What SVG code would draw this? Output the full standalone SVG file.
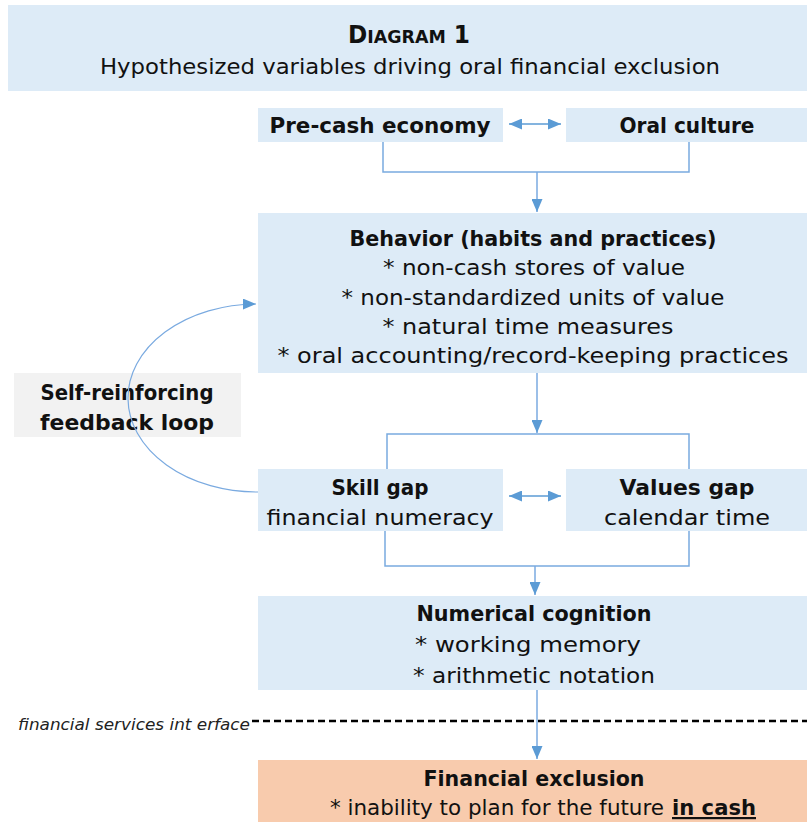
<svg xmlns="http://www.w3.org/2000/svg" width="807" height="822" viewBox="0 0 807 822">
<style>
.box{fill:#DDEBF7}
.t{font-family:"DejaVu Sans","Liberation Sans",sans-serif;font-size:22px;fill:#111;text-anchor:middle}
.b{font-weight:bold}
.c{fill:none;stroke:#7AAAE0;stroke-width:1.5}
</style>
<defs>
<marker id="ah" viewBox="0 0 13 11" refX="13" refY="5.5" markerWidth="13" markerHeight="11" markerUnits="userSpaceOnUse" orient="auto-start-reverse"><path d="M0,0 L13,5.5 L0,11 Z" fill="#5B9BD5"/></marker>
</defs>
<rect width="807" height="822" fill="#fff"/>
<g id="title">
<rect class="box" x="8" y="5" width="799" height="86"/>
<text class="t" x="409" y="43" style="font-weight:600" textLength="122" lengthAdjust="spacingAndGlyphs"><tspan font-size="24">D</tspan><tspan font-size="18">IAGRAM</tspan><tspan font-size="24"> 1</tspan></text>
<text class="t" x="410" y="74" textLength="620" lengthAdjust="spacingAndGlyphs">Hypothesized variables driving oral financial exclusion</text>
</g>
<g id="precash">
<rect class="box" x="258" y="108" width="245" height="34"/>
<text class="t b" x="380" y="133" textLength="221" lengthAdjust="spacingAndGlyphs">Pre-cash economy</text>
</g>
<g id="oral">
<rect class="box" x="566" y="108" width="241" height="34"/>
<text class="t b" x="687" y="133" textLength="135" lengthAdjust="spacingAndGlyphs">Oral culture</text>
</g>
<g id="behavior">
<rect class="box" x="258" y="213" width="549" height="160"/>
<text class="t b" x="533" y="246" textLength="367" lengthAdjust="spacingAndGlyphs">Behavior (habits and practices)</text>
<text class="t" x="534" y="275" textLength="302" lengthAdjust="spacingAndGlyphs">* non-cash stores of value</text>
<text class="t" x="533" y="305" textLength="383" lengthAdjust="spacingAndGlyphs">* non-standardized units of value</text>
<text class="t" x="528" y="334" textLength="291" lengthAdjust="spacingAndGlyphs">* natural time measures</text>
<text class="t" x="533" y="363" textLength="511" lengthAdjust="spacingAndGlyphs">* oral accounting/record-keeping practices</text>
</g>
<g id="loop">
<rect x="14" y="373" width="227" height="64" fill="#F2F2F2"/>
<text class="t b" x="127" y="400" textLength="173" lengthAdjust="spacingAndGlyphs">Self-reinforcing</text>
<text class="t b" x="127" y="430" textLength="174" lengthAdjust="spacingAndGlyphs">feedback loop</text>
</g>
<g id="skill">
<rect class="box" x="258" y="469" width="245" height="62"/>
<text class="t b" x="380" y="495" textLength="97" lengthAdjust="spacingAndGlyphs">Skill gap</text>
<text class="t" x="380" y="525" textLength="227" lengthAdjust="spacingAndGlyphs">financial numeracy</text>
</g>
<g id="values">
<rect class="box" x="566" y="469" width="241" height="62"/>
<text class="t b" x="687" y="495" textLength="135" lengthAdjust="spacingAndGlyphs">Values gap</text>
<text class="t" x="687" y="525" textLength="166" lengthAdjust="spacingAndGlyphs">calendar time</text>
</g>
<g id="numerical">
<rect class="box" x="258" y="596" width="549" height="94"/>
<text class="t b" x="534" y="621" textLength="235" lengthAdjust="spacingAndGlyphs">Numerical cognition</text>
<text class="t" x="528" y="652" textLength="226" lengthAdjust="spacingAndGlyphs">* working memory</text>
<text class="t" x="534" y="683" textLength="242" lengthAdjust="spacingAndGlyphs">* arithmetic notation</text>
</g>
<g id="interface">
<line x1="252" y1="721" x2="807" y2="721" stroke="#000" stroke-width="2.5" stroke-dasharray="7 4"/>
<text x="18" y="730" font-family="DejaVu Sans, Liberation Sans, sans-serif" font-size="16" font-style="italic" fill="#222" textLength="232" lengthAdjust="spacingAndGlyphs">financial services int erface</text>
</g>
<g id="exclusion">
<rect x="258" y="760" width="549" height="62" fill="#F8CBAD"/>
<text class="t b" x="534" y="786" textLength="221" lengthAdjust="spacingAndGlyphs">Financial exclusion</text>
<text class="t" x="330" y="815" style="text-anchor:start" textLength="334" lengthAdjust="spacingAndGlyphs">* inability to plan for the future</text>
<text class="t b" x="672" y="815" style="text-anchor:start" text-decoration="underline" textLength="84" lengthAdjust="spacingAndGlyphs">in cash</text>
</g>
<g id="connectors">
<line class="c" x1="509" y1="124" x2="561" y2="124" marker-start="url(#ah)" marker-end="url(#ah)" style="stroke:#5B9BD5"/>
<polyline class="c" points="383,142 383,172 689,172 689,142"/>
<line class="c" x1="537" y1="172" x2="537" y2="212" marker-end="url(#ah)"/>
<line class="c" x1="537" y1="373" x2="537" y2="433" marker-end="url(#ah)"/>
<polyline class="c" points="387,469 387,434 689,434 689,469"/>
<line class="c" x1="509" y1="496" x2="561" y2="496" marker-start="url(#ah)" marker-end="url(#ah)" style="stroke:#5B9BD5"/>
<polyline class="c" points="385,531 385,566 689,566 689,531"/>
<line class="c" x1="535" y1="566" x2="535" y2="595" marker-end="url(#ah)"/>
<line class="c" x1="537" y1="690" x2="537" y2="759" marker-end="url(#ah)"/>
<path class="c" d="M258,492 A129,94 0 0 1 256,304" marker-end="url(#ah)" style="stroke-width:1.2"/>
</g>
</svg>
